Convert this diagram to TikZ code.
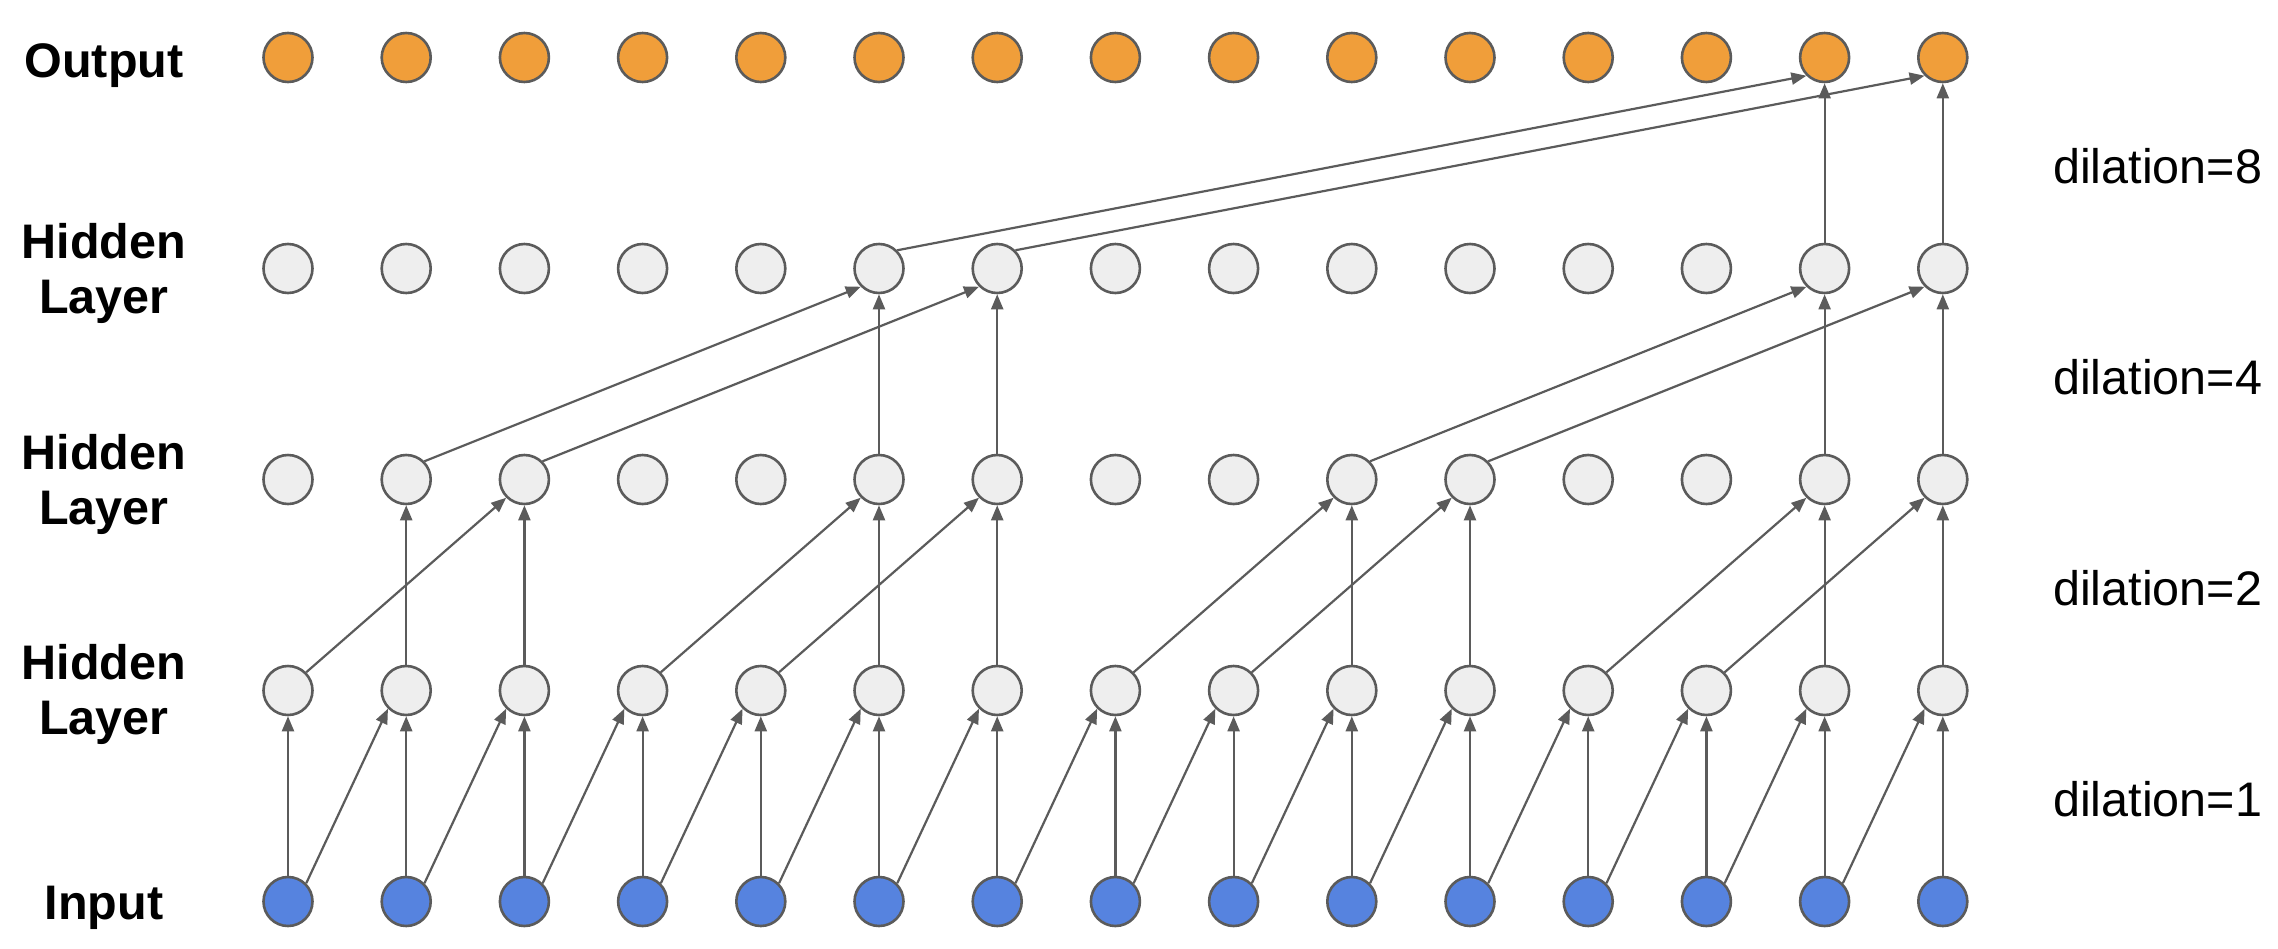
\documentclass[tikz,border=0pt]{standalone}
\usepackage{fontspec}
\setmainfont{Liberation Sans}
\usetikzlibrary{arrows.meta}
\definecolor{edgec}{HTML}{5B5B5B}
\definecolor{outc}{HTML}{F09E3A}
\definecolor{inc}{HTML}{5683DF}
\definecolor{hidc}{HTML}{EEEEEE}
\begin{document}
\begin{tikzpicture}[x=1pt,y=-1pt,
  neuron/.style={circle, draw=edgec, line width=2.6pt, minimum size=49pt, inner sep=0pt},
  outn/.style={neuron, fill=outc},
  hidn/.style={neuron, fill=hidc},
  inn/.style={neuron, fill=inc},
  conn/.style={draw=edgec, line width=2.2pt, -{Triangle[length=15pt,width=12pt]}},
  lab/.style={font=\fontsize{48.5}{55}\selectfont\bfseries, align=center, anchor=base, inner sep=0pt},
  dil/.style={font=\fontsize{48.5}{55}\selectfont, anchor=base west, inner sep=0pt}]
\useasboundingbox (0,0) rectangle (2278,948);
\foreach \i in {1,...,15} {
  \pgfmathsetmacro\xx{288+118.2*(\i-1)}
  \node[outn] (o\i) at (\xx,57.5) {};
  \node[hidn] (c\i) at (\xx,268.5) {};
  \node[hidn] (b\i) at (\xx,479.5) {};
  \node[hidn] (a\i) at (\xx,690.5) {};
  \node[inn] (in\i) at (\xx,901.5) {};
}
% input -> hidden 1 (dilation 1)
\foreach \i in {1,...,15} { \draw[conn] (in\i.north) -- (a\i.south); }
\foreach \i [evaluate=\i as \j using int(\i+1)] in {1,...,14} { \draw[conn] (in\i.north east) -- (a\j.south west); }
% hidden 1 -> hidden 2 (dilation 2)
\foreach \i in {2,3,6,7,10,11,14,15} { \draw[conn] (a\i.north) -- (b\i.south); }
\foreach \i [evaluate=\i as \j using int(\i+2)] in {1,4,5,8,9,12,13} { \draw[conn] (a\i.north east) -- (b\j.south west); }
% hidden 2 -> hidden 3 (dilation 4)
\foreach \i in {6,7,14,15} { \draw[conn] (b\i.north) -- (c\i.south); }
\foreach \i [evaluate=\i as \j using int(\i+4)] in {2,3,10,11} { \draw[conn] (b\i.north east) -- (c\j.south west); }
% hidden 3 -> output (dilation 8)
\foreach \i in {14,15} { \draw[conn] (c\i.north) -- (o\i.south); }
\foreach \i [evaluate=\i as \j using int(\i+8)] in {6,7} { \draw[conn] (c\i.north east) -- (o\j.south west); }
% labels
\node[lab] (lout) at (104,77.3) {Output};
\node[lab] (lh3) at (104,313) {Hidden\\Layer};
\node[lab] (lh2) at (104,524) {Hidden\\Layer};
\node[lab] (lh1) at (104,734) {Hidden\\Layer};
\node[lab] (lin) at (104,919) {Input};
\node[dil] (d8) at (2053,183) {dilation=8};
\node[dil] (d4) at (2053,394) {dilation=4};
\node[dil] (d2) at (2053,605) {dilation=2};
\node[dil] (d1) at (2053,816) {dilation=1};
\end{tikzpicture}
\end{document}
